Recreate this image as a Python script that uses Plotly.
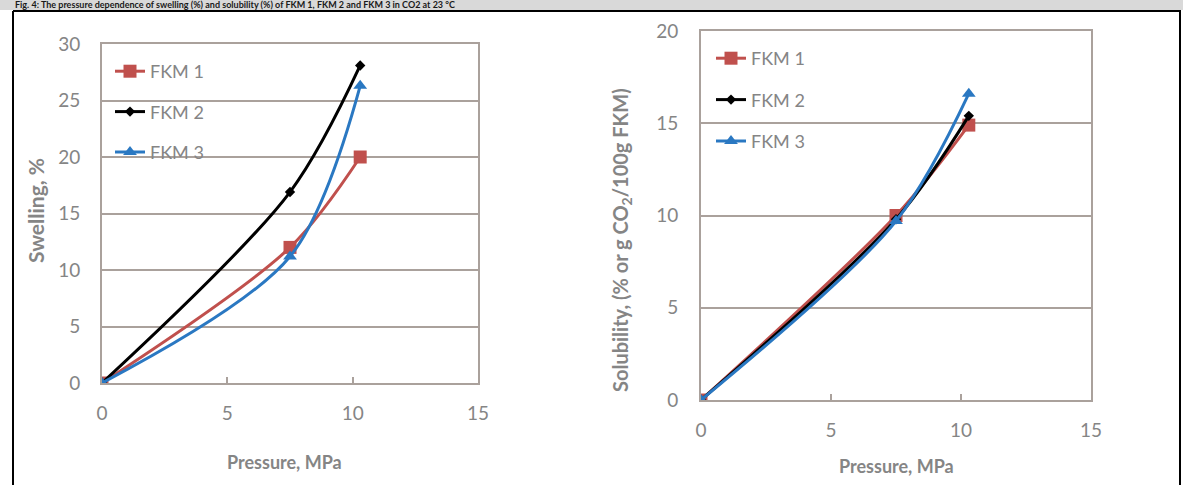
import plotly.graph_objects as go

W, H = 1183, 485

# ---- data ----
pressure = [0, 7.5, 10.3]
series_names = ["FKM 1", "FKM 2", "FKM 3"]
swelling_fkm1 = [0, 12.0, 20.0]
swelling_fkm2 = [0, 16.9, 28.1]
swelling_fkm3 = [0, 11.2, 26.3]
solub_fkm1 = [0, 10.0, 14.9]
solub_fkm2 = [0, 9.8, 15.4]
solub_fkm3 = [0, 9.7, 16.6]
x_ticks = [0, 5, 10, 15]
y1_ticks = [0, 5, 10, 15, 20, 25, 30]
y2_ticks = [0, 5, 10, 15, 20]
title_text = ("Fig. 4: The pressure dependence of swelling (%) and solubility (%) of "
              "FKM 1, FKM 2 and FKM 3 in CO2 at 23 °C")

colors = ["#c0504d", "#000000", "#2a78c2"]
symbols = ["square", "diamond", "triangle-up"]
msizes = [13, 8, 12]

FONT = "Lato, 'Noto Sans', sans-serif"
GRAY = "#858585"
GRID = "#aaa19c"

def px(x):
    return x / W

def py(y):
    return 1 - y / H

fig = go.Figure()

left = [swelling_fkm1, swelling_fkm2, swelling_fkm3]
right = [solub_fkm1, solub_fkm2, solub_fkm3]

for i, name in enumerate(series_names):
    fig.add_trace(go.Scatter(
        x=pressure, y=left[i], name=name, mode="lines+markers",
        line=dict(color=colors[i], width=3, shape="spline", smoothing=0.9),
        marker=dict(symbol=symbols[i], size=msizes[i], color=colors[i]),
        xaxis="x", yaxis="y", legend="legend", legendgroup="L" + str(i),
    ))
for i, name in enumerate(series_names):
    fig.add_trace(go.Scatter(
        x=pressure, y=right[i], name=name, mode="lines+markers",
        line=dict(color=colors[i], width=3, shape="spline", smoothing=0.9),
        marker=dict(symbol=symbols[i], size=msizes[i], color=colors[i]),
        xaxis="x2", yaxis="y2", legend="legend2", legendgroup="R" + str(i),
    ))

axis_common = dict(
    showline=True, mirror=True, linecolor=GRID, linewidth=2,
    zeroline=False, tickfont=dict(family=FONT, size=19, color=GRAY),
)

fig.update_layout(
    width=W, height=H,
    margin=dict(l=0, r=0, t=0, b=0, autoexpand=False),
    paper_bgcolor="white", plot_bgcolor="white",
    font=dict(family=FONT),
    xaxis=dict(domain=[px(102), px(478)], range=[0, 15], tickvals=x_ticks,
               showgrid=False, ticks="inside", ticklen=6, tickcolor=GRID, tickwidth=2,
               ticklabelstandoff=12, anchor="y", **axis_common),
    yaxis=dict(domain=[py(383), py(44)], range=[0, 30], tickvals=y1_ticks,
               showgrid=True, gridcolor=GRID, gridwidth=2, ticks="",
               ticklabelstandoff=16, anchor="x", **axis_common),
    xaxis2=dict(domain=[px(701), px(1091)], range=[0, 15], tickvals=x_ticks,
                showgrid=False, ticks="inside", ticklen=6, tickcolor=GRID, tickwidth=2,
                ticklabelstandoff=12, anchor="y2", **axis_common),
    yaxis2=dict(domain=[py(400), py(31)], range=[0, 20], tickvals=y2_ticks,
                showgrid=True, gridcolor=GRID, gridwidth=2, ticks="",
                ticklabelstandoff=17, anchor="x2", **axis_common),
    legend=dict(x=px(110), y=py(53), xanchor="left", yanchor="top",
                bgcolor="rgba(0,0,0,0)", font=dict(family=FONT, size=18, color=GRAY),
                itemwidth=30, tracegroupgap=14),
    legend2=dict(x=px(711), y=py(40), xanchor="left", yanchor="top",
                 bgcolor="rgba(0,0,0,0)", font=dict(family=FONT, size=18, color=GRAY),
                 itemwidth=30, tracegroupgap=15),
    showlegend=True,
)

fig.update_layout(
    shapes=[
        dict(type="rect", xref="paper", yref="paper", x0=0, x1=1, y0=py(10), y1=1,
             fillcolor="#d9d9d9", line=dict(width=0), layer="below"),
        dict(type="line", xref="paper", yref="paper", x0=px(13), x1=px(1181), y0=py(11), y1=py(11),
             line=dict(color="black", width=2)),
        dict(type="line", xref="paper", yref="paper", x0=px(13), x1=px(13), y0=0, y1=py(11),
             line=dict(color="black", width=2)),
        dict(type="line", xref="paper", yref="paper", x0=px(1180), x1=px(1180), y0=0, y1=py(11),
             line=dict(color="black", width=2)),
    ],
    annotations=[
        dict(text=title_text, xref="paper", yref="paper", x=px(14), y=py(5),
             xanchor="left", yanchor="middle", showarrow=False, borderpad=0,
             font=dict(family=FONT, size=9, color="#1a1a1a", weight="bold")),
        dict(text="Pressure, MPa", xref="paper", yref="paper", x=px(284), y=py(462),
             xanchor="center", yanchor="middle", showarrow=False,
             font=dict(family=FONT, size=18, color=GRAY, weight="bold")),
        dict(text="Pressure, MPa", xref="paper", yref="paper", x=px(896), y=py(466),
             xanchor="center", yanchor="middle", showarrow=False,
             font=dict(family=FONT, size=18, color=GRAY, weight="bold")),
        dict(text="Swelling, %", xref="paper", yref="paper", x=px(35), y=py(211),
             xanchor="center", yanchor="middle", textangle=-90, showarrow=False,
             font=dict(family=FONT, size=21, color=GRAY, weight="bold")),
        dict(text="Solubility, (% or g CO<sub>2</sub>/100g FKM)", xref="paper", yref="paper",
             x=px(621), y=py(240), xanchor="center", yanchor="middle", textangle=-90,
             showarrow=False, font=dict(family=FONT, size=20, color=GRAY, weight="bold")),
    ],
)

fig.write_html("out.html")
